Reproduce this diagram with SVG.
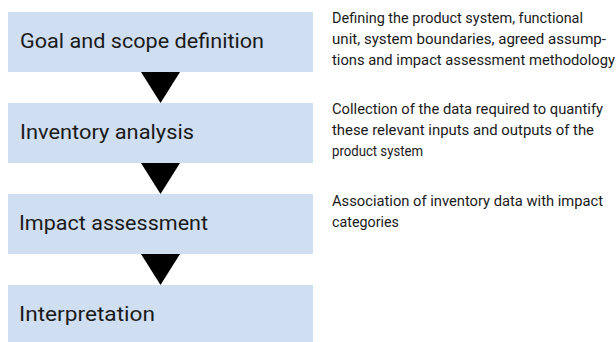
<svg xmlns="http://www.w3.org/2000/svg" width="616" height="342" viewBox="0 0 616 342">
  <style>
    .box { fill: #cfdef0; }
    .lbl { font-family: Roboto, "Liberation Sans", sans-serif; font-size: 21px; fill: #1a1a1a; }
    .desc { font-family: Roboto, "Liberation Sans", sans-serif; font-size: 14px; fill: #1a1a1a; }
    .arrow { fill: #000000; }
  </style>
  <rect x="0" y="0" width="616" height="342" fill="#ffffff"/>
  <g id="connectors">
    <polygon class="arrow" points="141,72 180,72 160.5,103"/>
    <polygon class="arrow" points="141,163 180,163 160.5,194"/>
    <polygon class="arrow" points="141,254 180,254 160.5,285"/>
  </g>
  <g id="node-goal">
    <rect class="box" x="8" y="12" width="305" height="60"/>
    <text class="lbl" x="20" y="48" textLength="244" lengthAdjust="spacingAndGlyphs">Goal and scope definition</text>
  </g>
  <g id="node-inventory">
    <rect class="box" x="8" y="103" width="305" height="60"/>
    <text class="lbl" x="20" y="139" textLength="174" lengthAdjust="spacingAndGlyphs">Inventory analysis</text>
  </g>
  <g id="node-impact">
    <rect class="box" x="8" y="194" width="305" height="60"/>
    <text class="lbl" x="19" y="230" textLength="189" lengthAdjust="spacingAndGlyphs">Impact assessment</text>
  </g>
  <g id="node-interpretation">
    <rect class="box" x="8" y="285" width="305" height="57"/>
    <text class="lbl" x="19" y="321" textLength="136" lengthAdjust="spacingAndGlyphs">Interpretation</text>
  </g>
  <g id="desc-goal">
    <text class="desc" x="332" y="23" textLength="251" lengthAdjust="spacingAndGlyphs">Defining the product system, functional</text>
    <text class="desc" x="332" y="44" textLength="274" lengthAdjust="spacingAndGlyphs">unit, system boundaries, agreed assump-</text>
    <text class="desc" x="332" y="65" textLength="283" lengthAdjust="spacingAndGlyphs">tions and impact assessment methodology</text>
  </g>
  <g id="desc-inventory">
    <text class="desc" x="332" y="114" textLength="271" lengthAdjust="spacingAndGlyphs">Collection of the data required to quantify</text>
    <text class="desc" x="332" y="135" textLength="262" lengthAdjust="spacingAndGlyphs">these relevant inputs and outputs of the</text>
    <text class="desc" x="332" y="156" textLength="91" lengthAdjust="spacingAndGlyphs">product system</text>
  </g>
  <g id="desc-impact">
    <text class="desc" x="332" y="206" textLength="271" lengthAdjust="spacingAndGlyphs">Association of inventory data with impact</text>
    <text class="desc" x="332" y="227" textLength="67" lengthAdjust="spacingAndGlyphs">categories</text>
  </g>
</svg>
